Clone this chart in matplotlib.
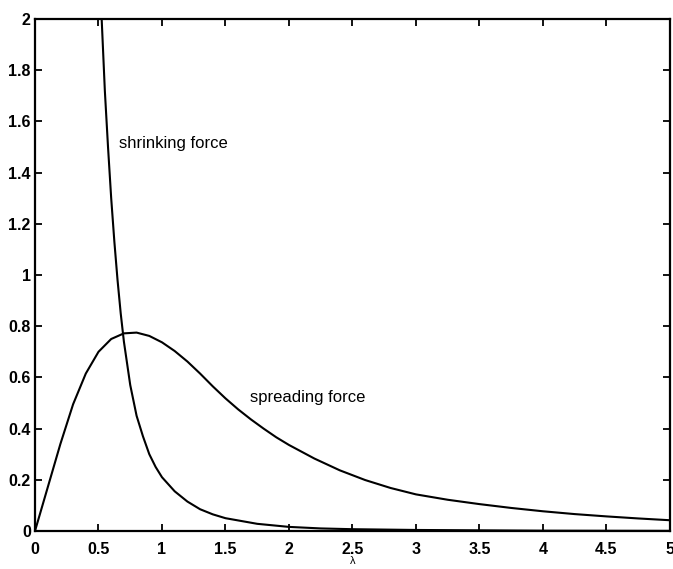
import matplotlib as mpl
mpl.use("Agg")
import matplotlib.pyplot as plt

# spreading force
lam_spread = [0.0, 0.1, 0.2, 0.3, 0.4, 0.5, 0.6, 0.7, 0.8, 0.9, 1.0, 1.1, 1.2, 1.3,
              1.4, 1.5, 1.6, 1.7, 1.8, 1.9, 2.0, 2.2, 2.4, 2.6, 2.8, 3.0, 3.25,
              3.5, 3.75, 4.0, 4.25, 4.5, 4.75, 5.0]
f_spread = [0.0, 0.17, 0.34, 0.495, 0.615, 0.70, 0.75, 0.772, 0.775, 0.762, 0.737,
            0.703, 0.662, 0.615, 0.565, 0.518, 0.475, 0.436, 0.40, 0.366, 0.336,
            0.283, 0.237, 0.199, 0.168, 0.143, 0.122, 0.105, 0.09, 0.077, 0.066,
            0.057, 0.049, 0.042]

# shrinking force
lam_shrink = [0.525, 0.55, 0.575, 0.6, 0.625, 0.65, 0.675, 0.7, 0.75, 0.8, 0.85,
              0.9, 0.95, 1.0, 1.1, 1.2, 1.3, 1.4, 1.5, 1.75, 2.0, 2.25, 2.5, 3.0,
              4.0, 5.0]
f_shrink = [2.0, 1.72, 1.50, 1.30, 1.13, 0.98, 0.85, 0.74, 0.57, 0.45, 0.37,
            0.30, 0.25, 0.21, 0.155, 0.115, 0.085, 0.065, 0.05, 0.028, 0.016,
            0.01, 0.007, 0.004, 0.0012, 0.0005]

xticks = [0, 0.5, 1, 1.5, 2, 2.5, 3, 3.5, 4, 4.5, 5]
xticklabels = ["0", "0.5", "1", "1.5", "2", "2.5", "3", "3.5", "4", "4.5", "5"]
yticks = [0, 0.2, 0.4, 0.6, 0.8, 1, 1.2, 1.4, 1.6, 1.8, 2]
yticklabels = ["0", "0.2", "0.4", "0.6", "0.8", "1", "1.2", "1.4", "1.6", "1.8", "2"]

plt.rcParams['font.family'] = ['Liberation Sans', 'DejaVu Sans']

fig = plt.figure(figsize=(6.73, 5.69), dpi=100)
ax = fig.add_axes([0.052, 0.0668, 0.9435, 0.8998])

ax.plot(lam_spread, f_spread, color="black", lw=1.5)
ax.plot(lam_shrink, f_shrink, color="black", lw=1.5)

ax.set_xlim(0, 5)
ax.set_ylim(0, 2)
ax.set_xticks(xticks)
ax.set_xticklabels(xticklabels, fontsize=11.5, fontweight="bold")
ax.set_yticks(yticks)
ax.set_yticklabels(yticklabels, fontsize=11.5, fontweight="bold")
ax.tick_params(direction="in", length=5, width=1.3, top=True, right=True)
ax.tick_params(axis="x", pad=8)
ax.tick_params(axis="y", pad=3)
for s in ax.spines.values():
    s.set_linewidth(1.6)

ax.text(0.66, 1.515, "shrinking force", fontsize=12, va="center", ha="left")
ax.text(1.69, 0.52, "spreading force", fontsize=12, va="center", ha="left")
ax.set_xlabel("λ", fontsize=8, labelpad=-0.5)

fig.savefig("out.png", dpi=100)
